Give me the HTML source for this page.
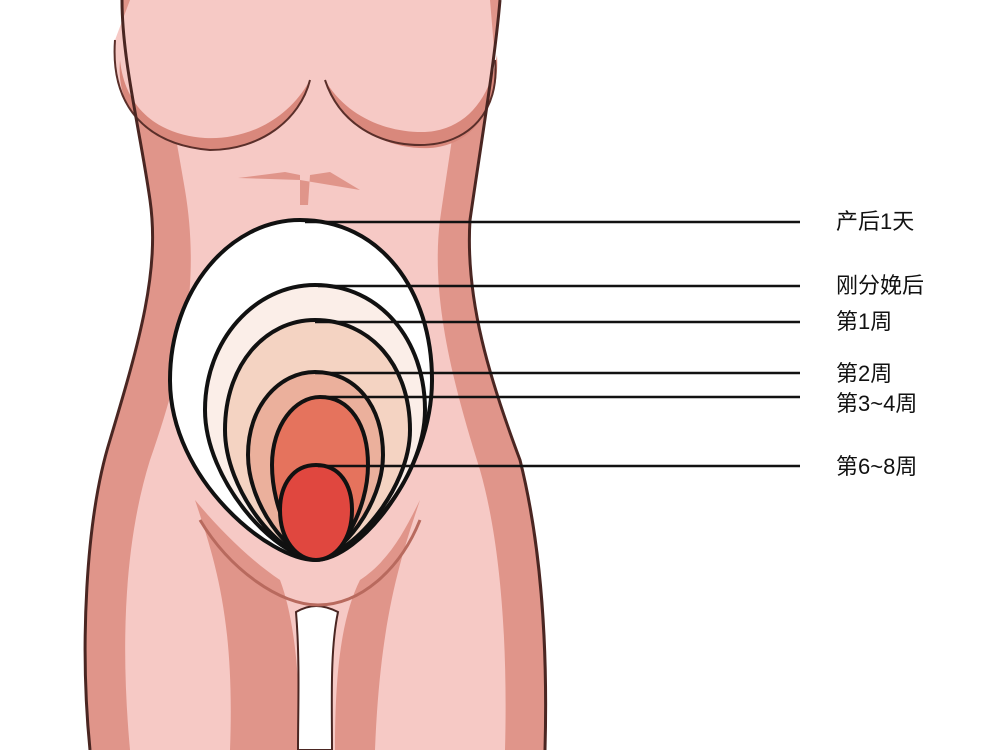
<!DOCTYPE html>
<html><head><meta charset="utf-8"><style>
html,body{margin:0;padding:0;background:#fff;width:1000px;height:750px;overflow:hidden}
text{font-family:"Liberation Sans","Noto Sans CJK SC",sans-serif;font-size:22px;fill:#111}
</style></head><body>
<svg width="1000" height="750" viewBox="0 0 1000 750" xmlns="http://www.w3.org/2000/svg">
<path d="M122,0 L500,0 C495,60 480,150 470,220 C465,300 490,380 520,460 C540,540 548,640 545,750 L90,750 C80,650 85,520 110,440 C140,340 160,270 150,200 C140,130 122,60 122,0 Z" fill="#f6c9c5"/>
<path d="M122,0 C122,60 140,130 150,200 C160,270 140,340 110,440 C85,520 80,650 90,750 L130,750 C120,640 125,540 150,460 C185,360 200,280 185,190 C175,130 160,60 160,0 Z" fill="#e0958a"/>
<path d="M500,0 C495,60 480,150 470,220 C465,300 490,380 520,460 C540,540 548,640 545,750 L505,750 C508,640 500,540 480,470 C455,390 430,300 440,220 C450,150 465,60 470,0 Z" fill="#e0958a"/>
<path d="M115,40 C110,110 150,145 210,150 C260,150 300,120 310,80 C300,20 250,0 200,0 L130,0 Z" fill="#f6c9c5"/>
<path d="M120,60 C115,120 160,150 215,150 C265,148 300,115 310,80 C285,125 240,140 205,138 C160,135 125,110 120,60 Z" fill="#d9887c"/>
<path d="M325,80 C340,125 380,145 420,145 C470,145 500,110 495,60 L490,0 L360,0 C335,20 320,50 325,80 Z" fill="#f6c9c5"/>
<path d="M325,80 C345,130 390,150 430,148 C475,145 500,105 497,55 C490,100 465,130 425,132 C385,133 345,115 325,80 Z" fill="#d9887c"/>
<path d="M115,40 C110,110 150,145 210,150 C260,150 300,120 310,80 M325,80 C340,125 380,145 420,145 C470,145 500,110 495,60" fill="none" stroke="#5a2f2a" stroke-width="2"/>
<path d="M122,0 C122,60 140,130 150,200 C160,270 140,340 110,440 C85,520 80,650 90,750 M500,0 C495,60 480,150 470,220 C465,300 490,380 520,460 C540,540 548,640 545,750" fill="none" stroke="#4a2622" stroke-width="3"/>
<path d="M238,178 L285,172 L300,175 L300,205 L308,205 L310,175 L330,172 L360,190 L330,185 L300,180 Z" fill="#e0958a"/>
<path d="M195,500 C215,560 235,620 230,750 L300,750 C300,680 295,620 280,580 C250,560 220,530 195,500 Z" fill="#e0958a"/>
<path d="M420,500 C400,560 380,620 375,750 L335,750 C335,680 340,620 360,580 C390,560 405,530 420,500 Z" fill="#e0958a"/>
<path d="M296,612 C300,660 298,710 298,750 L332,750 C332,700 330,650 338,612 C322,604 310,604 296,612 Z" fill="#fff" stroke="#4a2622" stroke-width="2"/>
<path d="M200,520 C230,570 280,605 318,605 C360,605 400,570 420,520" fill="none" stroke="#b86a5e" stroke-width="3"/>
<g stroke="#111" stroke-width="4">
<path d="M300,220 C380,220 432,290 432,380 C432,470 360,560 315,560 C270,560 170,480 170,380 C170,290 230,220 300,220 Z" fill="#ffffff"/>
<path d="M315,285 C380,285 425,340 425,410 C425,480 355,558 315,558 C275,558 205,480 205,410 C205,340 255,285 315,285 Z" fill="#fbeee8"/>
<path d="M315,320 C370,320 410,365 410,430 C410,490 350,558 315,558 C280,558 225,490 225,430 C225,365 265,320 315,320 Z" fill="#f4d3c2"/>
<path d="M315,372 C355,372 383,405 383,455 C383,505 340,558 315,558 C290,558 248,505 248,455 C248,405 280,372 315,372 Z" fill="#ebb09c"/>
<path d="M320,397 C350,397 368,425 368,465 C368,510 340,558 318,558 C296,558 272,510 272,465 C272,425 295,397 320,397 Z" fill="#e5735d"/>
<path d="M316,465 C340,465 352,485 352,510 C352,540 335,560 316,560 C297,560 280,540 280,510 C280,485 293,465 316,465 Z" fill="#e0473f"/>
</g>
<g stroke="#111" stroke-width="2.5">
<line x1="305" y1="222" x2="800" y2="222"/>
<line x1="318" y1="286" x2="800" y2="286"/>
<line x1="315" y1="322" x2="800" y2="322"/>
<line x1="315" y1="373" x2="800" y2="373"/>
<line x1="322" y1="397" x2="800" y2="397"/>
<line x1="318" y1="466" x2="800" y2="466"/>
</g>
<text x="836" y="229">产后1天</text>
<text x="836" y="293">刚分娩后</text>
<text x="836" y="329">第1周</text>
<text x="836" y="381">第2周</text>
<text x="836" y="411">第3~4周</text>
<text x="836" y="474">第6~8周</text>
</svg>
</body></html>
